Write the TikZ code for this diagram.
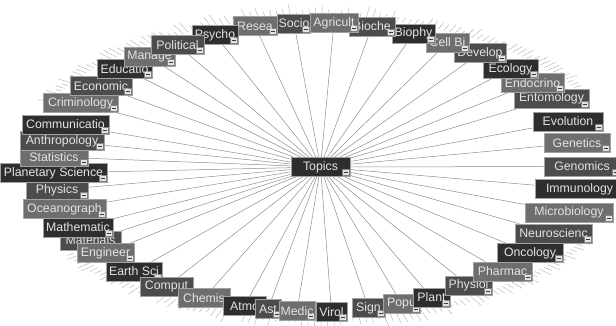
\documentclass[tikz,border=0pt]{standalone}
\usepackage{fontspec}
\setmainfont{Liberation Sans}
\usetikzlibrary{backgrounds}
\definecolor{tdark}{HTML}{2E2E2E}
\definecolor{tmid}{HTML}{4C4C4C}
\definecolor{tlight}{HTML}{6E6E6E}
\definecolor{tfont}{HTML}{E4E4E4}
\definecolor{tedge}{HTML}{A2A2A2}
\definecolor{iconfill}{HTML}{E2E2E2}
\definecolor{icondash}{HTML}{3A3A3A}
\definecolor{spokegray}{HTML}{8C8C8C}

\tikzset{
  topic/.style={draw=tedge, line width=0.6pt, text=tfont, minimum height=19pt,
    inner xsep=1pt, inner ysep=0pt, font=\fontsize{12.3}{14}\selectfont,
    path picture={
      \draw[fill=iconfill, draw=gray, line width=0.4pt]
        ([xshift=-8pt,yshift=1pt]path picture bounding box.south east) rectangle ++(7,-6);
      \draw[icondash, line width=1pt]
        ([xshift=-6.5pt,yshift=4pt]path picture bounding box.south east) -- ++(4,0);}},
  spoke/.style={draw=spokegray, line width=0.5pt},
  scribble/.style={draw=gray!70, line width=0.5pt,
    dash pattern=on 1.2pt off 0.6pt on 0.8pt off 0.5pt}
}

\begin{document}
\begin{tikzpicture}[x=1pt, y=-1pt]
\useasboundingbox (0,0) rectangle (616,325);
% hub
\node[topic, fill=tdark, minimum width=59pt] (topics) at (320.5,167) {Topics};
% ring of topics, right side and top first, then left side, then bottom
\foreach \n/\x/\y/\w/\c/\t in {
  neuroscienc/553.5/233.5/77/tmid/Neuroscienc, microbiology/569/212.5/88/tlight/Microbiology,
  immunology/579.5/189/89/tdark/Immunology, genomics/582/166.5/76/tmid/Genomics,
  genetics/577/143/66/tlight/Genetics, evolution/568/121.5/70/tdark/Evolution,
  entomology/551.5/98.5/75/tmid/Entomology, endocrino/532.5/83/63/tlight/Endocrino,
  ecology/510.5/69/55/tdark/Ecology, develop/480/53/52/tmid/Develop,
  cellbi/447.5/42.5/43/tlight/Cell Bi, biophy/413.5/33.5/43/tdark/Biophy,
  bioche/372/26.5/46/tmid/Bioche, agricult/334/23/48/tlight/Agricult,
  socio/294/23.5/32/tmid/Socio, resea/255/26/44/tlight/Resea,
  psycho/215/35/46/tdark/Psycho,
  earthsci/134/271.5/56/tdark/Earth Sci, materials/90.5/240.5/61/tmid/Materials,
  engineer/105.5/253/57/tlight/Engineer, mathematic/78/227.5/70/tdark/Mathematic,
  oceanograph/64.5/209/83/tlight/Oceanograph, physics/57/190/62/tmid/Physics,
  planetary/53.5/173/107/tdark/Planetary Science, statistics/54/157/68/tlight/Statistics,
  anthropology/62/141/84/tmid/Anthropology, communicatio/65.5/124.5/87/tdark/Communicatio,
  criminology/80.5/103/75/tlight/Criminology, economic/101/86/62/tmid/Economic,
  educatio/124.5/69/55/tdark/Educatio, manage/149.5/57/51/tlight/Manage,
  political/177.5/45/53/tmid/Political,
  comput/166.5/286.5/53/tmid/Comput, chemis/204/298/52/tlight/Chemis,
  atmo/244.5/306/43/tdark/Atmo, ast/268/309/26/tmid/Ast,
  medic/297/311/36/tlight/Medic, virol/331.5/312/31/tdark/Virol,
  sign/368.5/308/33/tmid/Sign, popu/401.5/303.5/37/tlight/Popu,
  plant/431.5/297.5/37/tdark/Plant, physiol/468.5/285.5/47/tmid/Physiol,
  pharmac/502.5/271.5/59/tlight/Pharmac, oncology/530/253/66/tdark/Oncology}
  \node[topic, fill=\c, minimum width=\w pt] (\n) at (\x,\y) {\t};
\begin{scope}[on background layer]
% faint outer ring of leaf labels
\pgfmathsetseed{42}
\foreach \t in {32,33.2,...,155,215,216.2,...,332} {
  \pgfmathsetmacro\len{5+9*rnd}
  \pgfmathsetmacro\k{1+\len/veclen(300*cos(\t),150*sin(\t))}
  \draw[scribble] ({320+300*cos(\t)},{167-150*sin(\t)}) -- ({320+300*\k*cos(\t)},{167-150*\k*sin(\t)});
}
% spokes
\foreach \n in {neuroscienc, microbiology, immunology, genomics, genetics, evolution,
  entomology, endocrino, ecology, develop, cellbi, biophy, bioche, agricult, socio, resea,
  psycho, earthsci, engineer, materials, mathematic, oceanograph, physics, planetary,
  statistics, anthropology, communicatio, criminology, economic, educatio, manage,
  political, comput, chemis, atmo, ast, medic, virol, sign, popu, plant, physiol,
  pharmac, oncology}
  \draw[spoke] (topics) -- (\n);
\end{scope}
\end{tikzpicture}
\end{document}
